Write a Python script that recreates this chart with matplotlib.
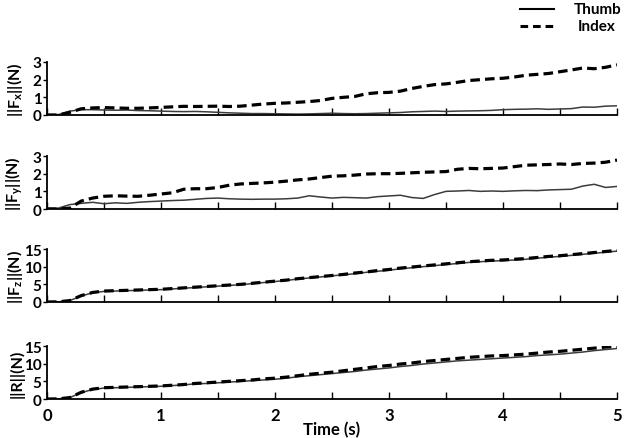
import numpy as np
import matplotlib.pyplot as plt
from matplotlib.lines import Line2D
from matplotlib.ticker import MultipleLocator

plt.rcParams["font.family"] = ["Lato", "DejaVu Sans"]
plt.rcParams["font.weight"] = "bold"
plt.rcParams["mathtext.fontset"] = "custom"
plt.rcParams["mathtext.rm"] = "Lato:bold"
plt.rcParams["mathtext.default"] = "rm"

# =============================
# DATA (0.1 s steps)
# =============================

time_s = np.round(np.arange(0, 5.05, 0.1), 1)

fx_thumb = [0.02, 0.02, 0.22, 0.30, 0.30, 0.28, 0.27, 0.28, 0.25, 0.24,
            0.22, 0.20, 0.19, 0.20, 0.18, 0.15, 0.12, 0.10, 0.08, 0.08,
            0.07, 0.06, 0.05, 0.06, 0.08, 0.10, 0.08, 0.07, 0.08, 0.10,
            0.12, 0.14, 0.18, 0.20, 0.22, 0.20, 0.22, 0.23, 0.24, 0.26,
            0.30, 0.32, 0.33, 0.35, 0.32, 0.34, 0.36, 0.45, 0.44, 0.50,
            0.52]
fx_index = [0.00, 0.00, 0.15, 0.35, 0.40, 0.42, 0.40, 0.38, 0.38, 0.40,
            0.43, 0.46, 0.49, 0.48, 0.49, 0.50, 0.48, 0.50, 0.56, 0.62,
            0.66, 0.68, 0.72, 0.76, 0.82, 0.94, 1.00, 1.05, 1.20, 1.26,
            1.28, 1.35, 1.50, 1.62, 1.72, 1.76, 1.85, 1.95, 2.00, 2.05,
            2.08, 2.15, 2.25, 2.30, 2.35, 2.45, 2.55, 2.66, 2.62, 2.70,
            2.84]

fy_thumb = [0.05, 0.05, 0.25, 0.32, 0.38, 0.30, 0.35, 0.32, 0.38, 0.42,
            0.45, 0.48, 0.50, 0.55, 0.60, 0.62, 0.58, 0.56, 0.55, 0.56,
            0.56, 0.58, 0.62, 0.75, 0.68, 0.62, 0.66, 0.64, 0.62, 0.70,
            0.74, 0.78, 0.65, 0.60, 0.82, 1.00, 1.02, 1.05, 1.00, 1.02,
            1.00, 1.03, 1.05, 1.04, 1.08, 1.10, 1.12, 1.30, 1.40, 1.22,
            1.28]
fy_index = [0.00, 0.00, 0.05, 0.45, 0.62, 0.72, 0.75, 0.73, 0.72, 0.78,
            0.85, 0.92, 1.12, 1.15, 1.15, 1.22, 1.35, 1.42, 1.45, 1.48,
            1.52, 1.58, 1.65, 1.70, 1.78, 1.86, 1.88, 1.92, 1.98, 2.00,
            2.00, 2.02, 2.05, 2.08, 2.10, 2.12, 2.25, 2.30, 2.28, 2.30,
            2.32, 2.40, 2.48, 2.50, 2.52, 2.55, 2.52, 2.58, 2.60, 2.65,
            2.77]

fz_thumb = [0.0, 0.05, 0.4, 1.7, 2.6, 3.0, 3.1, 3.2, 3.3, 3.4,
            3.5, 3.7, 3.9, 4.1, 4.3, 4.5, 4.7, 4.9, 5.2, 5.5,
            5.8, 6.1, 6.5, 6.8, 7.1, 7.4, 7.7, 8.0, 8.4, 8.7,
            9.0, 9.4, 9.7, 10.0, 10.3, 10.6, 10.9, 11.2, 11.4, 11.6,
            11.7, 11.9, 12.1, 12.4, 12.7, 12.9, 13.2, 13.5, 13.8, 14.1,
            14.4]
fz_index = [0.0, 0.05, 0.4, 1.8, 2.7, 3.1, 3.2, 3.3, 3.4, 3.5,
            3.6, 3.8, 4.0, 4.2, 4.4, 4.6, 4.8, 5.0, 5.3, 5.6,
            5.9, 6.2, 6.6, 6.9, 7.2, 7.5, 7.8, 8.2, 8.5, 8.9,
            9.2, 9.6, 9.9, 10.2, 10.5, 10.8, 11.1, 11.4, 11.6, 11.8,
            11.9, 12.1, 12.3, 12.6, 12.9, 13.1, 13.4, 13.7, 14.0, 14.3,
            14.6]

r_thumb = [0.0, 0.05, 0.4, 1.8, 2.7, 3.1, 3.2, 3.3, 3.4, 3.5,
           3.6, 3.8, 4.0, 4.3, 4.4, 4.6, 4.8, 5.0, 5.2, 5.4,
           5.6, 5.9, 6.3, 6.6, 6.9, 7.2, 7.5, 7.8, 8.2, 8.5,
           8.8, 9.2, 9.5, 9.9, 10.2, 10.5, 10.8, 11.0, 11.2, 11.4,
           11.6, 11.8, 12.0, 12.3, 12.5, 12.7, 13.0, 13.3, 13.7, 14.0,
           14.3]
r_index = [0.0, 0.05, 0.4, 1.9, 2.8, 3.2, 3.3, 3.4, 3.5, 3.6,
           3.7, 3.9, 4.1, 4.4, 4.6, 4.8, 5.0, 5.2, 5.4, 5.7,
           5.9, 6.2, 6.6, 7.0, 7.3, 7.6, 8.0, 8.4, 8.8, 9.2,
           9.5, 9.9, 10.2, 10.6, 10.9, 11.2, 11.5, 11.8, 12.0, 12.2,
           12.3, 12.5, 12.7, 13.0, 13.3, 13.5, 13.8, 14.1, 14.4, 14.7,
           14.9]

panels = [
    ("||F$_x$||(N)", fx_thumb, fx_index, 3, [0, 1, 2, 3]),
    ("||F$_y$||(N)", fy_thumb, fy_index, 3, [0, 1, 2, 3]),
    ("||F$_z$||(N)", fz_thumb, fz_index, 15, [0, 5, 10, 15]),
    ("||R||(N)", r_thumb, r_index, 15, [0, 5, 10, 15]),
]

# =============================
# PLOT
# =============================

fig = plt.figure(figsize=(6.24, 4.39), dpi=100)
bottoms = [0.7358, 0.5216, 0.3098, 0.0888]

for i, (label, thumb, index, ymax, yticks) in enumerate(panels):
    ax = fig.add_axes([0.0753, bottoms[i], 0.9135, 0.1207])
    ax.plot(time_s, thumb, color="#3c3c3c", lw=1.1, solid_joinstyle="round")
    ax.plot(time_s, index, color="black", lw=2.3, dashes=(3, 1.6))
    ax.set_xlim(0, 5)
    ax.set_ylim(0, ymax)
    ax.set_yticks(yticks)
    ax.xaxis.set_major_locator(MultipleLocator(1))
    ax.xaxis.set_minor_locator(MultipleLocator(0.5))
    ax.tick_params(axis="x", which="both", direction="in", length=5, width=1,
                   labelsize=12, pad=6)
    ax.tick_params(axis="y", direction="out", length=3, width=1,
                   labelsize=11, pad=1)
    for side in ["top", "right"]:
        ax.spines[side].set_visible(False)
    for side in ["left", "bottom"]:
        ax.spines[side].set_linewidth(1.3)
    ax.set_ylabel(label, fontsize=11.5, fontweight="bold")
    ax.yaxis.set_label_coords(-0.039, 0.5)
    if i < 3:
        ax.tick_params(axis="x", labelbottom=False)
    else:
        ax.set_xlabel("Time (s)", fontsize=12, fontweight="bold", labelpad=-2)

# legend drawn at the top right
fig.add_artist(Line2D([0.834, 0.888], [0.977, 0.977], color="black", lw=1.5,
                      transform=fig.transFigure))
fig.add_artist(Line2D([0.834, 0.888], [0.938, 0.938], color="black", lw=2.2,
                      dashes=(2.5, 1.6), transform=fig.transFigure))
fig.text(0.957, 0.977, "Thumb", ha="center", va="center", fontsize=11,
         fontweight="bold")
fig.text(0.957, 0.938, "Index", ha="center", va="center", fontsize=11,
         fontweight="bold")

fig.savefig("out.png", dpi=100)
